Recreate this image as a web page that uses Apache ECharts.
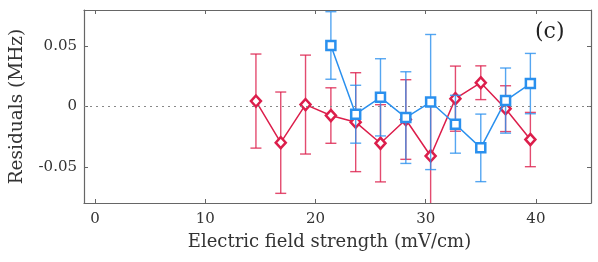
<!DOCTYPE html>
<html><head><meta charset="utf-8">
<script src="https://cdn.jsdelivr.net/npm/echarts@6/dist/echarts.min.js"></script>
<style>html,body{margin:0;padding:0;background:#fff}#c{width:598px;height:262px}</style>
</head><body><div id="c"></div>
<script>
// Data
const redX = [14.6, 16.85, 19.1, 21.4, 23.65, 25.9, 28.2, 30.45, 32.7, 35.0, 37.25, 39.5];
const redY = [0.0045, -0.030, 0.0016, -0.0075, -0.013, -0.0305, -0.0108, -0.041, 0.0065, 0.0197, -0.0018, -0.0274];
const redErr = [0.039, 0.042, 0.041, 0.023, 0.041, 0.032, 0.033, 0.046, 0.027, 0.014, 0.019, 0.0225];
const blueX = [21.4, 23.65, 25.9, 28.2, 30.45, 32.7, 35.0, 37.25, 39.5];
const blueY = [0.0506, -0.0064, 0.0076, -0.0092, 0.0037, -0.0147, -0.0343, 0.0049, 0.019];
const blueErr = [0.028, 0.024, 0.032, 0.038, 0.056, 0.024, 0.028, 0.027, 0.025];
const xTicks = [0, 10, 20, 30, 40];
const yTicks = [-0.05, 0, 0.05];
const yTickLabels = ['-0.05', '0', '0.05'];
const xName = 'Electric field strength (mV/cm)';
const yName = 'Residuals (MHz)';
const panelLabel = '(c)';

const RED = '#dc1e4b';
const BLUE = '#2a90ee';
const FONT = 'DejaVu Serif';
const AX = '#666';

function errRender(color) {
  return function (params, api) {
    const x = api.value(0), y = api.value(1), e = api.value(2);
    const cs = params.coordSys;
    const top = api.coord([x, y + e]);
    const bot = api.coord([x, y - e]);
    const yMin = cs.y, yMax = cs.y + cs.height;
    const t = Math.max(top[1], yMin), b = Math.min(bot[1], yMax);
    const hw = 5.5;
    const st = { stroke: color, lineWidth: 1.4, opacity: 0.8 };
    const ch = [{ type: 'line', shape: { x1: top[0], y1: t, x2: top[0], y2: b }, style: st }];
    if (top[1] >= yMin) ch.push({ type: 'line', shape: { x1: top[0] - hw, y1: top[1], x2: top[0] + hw, y2: top[1] }, style: st });
    if (bot[1] <= yMax) ch.push({ type: 'line', shape: { x1: top[0] - hw, y1: bot[1], x2: top[0] + hw, y2: bot[1] }, style: st });
    return { type: 'group', children: ch };
  };
}

function xAxisCfg(pos, showLabel) {
  return {
    type: 'value', min: -1, max: 45, position: pos,
    axisLine: { show: true, onZero: false, lineStyle: { color: AX, width: 1.2 } },
    axisTick: { show: true, inside: true, length: 4, customValues: xTicks, lineStyle: { color: AX } },
    axisLabel: { show: showLabel, customValues: xTicks, fontFamily: FONT, fontSize: 15, color: '#333', margin: 9 },
    splitLine: { show: false },
    name: showLabel ? xName : '', nameLocation: 'middle', nameGap: 30,
    nameTextStyle: { fontFamily: FONT, fontSize: 18, color: '#333', padding: [0, 16, 0, 0] }
  };
}
function yAxisCfg(pos, showLabel) {
  return {
    type: 'value', min: -0.08, max: 0.08, position: pos,
    axisLine: { show: true, onZero: false, lineStyle: { color: AX, width: 1.2 } },
    axisTick: { show: true, inside: true, length: 4, customValues: yTicks, lineStyle: { color: AX } },
    axisLabel: {
      show: showLabel, customValues: yTicks, fontFamily: FONT, fontSize: 15, color: '#333', margin: 7,
      formatter: function (v) { const i = yTicks.findIndex(t => Math.abs(t - v) < 1e-9); return i >= 0 ? yTickLabels[i] : ''; }
    },
    splitLine: { show: false },
    name: showLabel ? yName : '', nameLocation: 'middle', nameGap: 57,
    nameTextStyle: { fontFamily: FONT, fontSize: 18.5, color: '#333' }
  };
}

const chart = echarts.init(document.getElementById('c'), null, { renderer: 'canvas' });
chart.setOption({
  animation: false,
  backgroundColor: '#fff',
  grid: { left: 84, right: 7, top: 10, bottom: 59, containLabel: false },
  xAxis: [xAxisCfg('bottom', true), xAxisCfg('top', false)],
  yAxis: [yAxisCfg('left', true), yAxisCfg('right', false)],
  graphic: [{
    type: 'text', left: 535, top: 21,
    style: { text: panelLabel, font: '22px "DejaVu Serif"', fill: '#222' }
  }],
  series: [
    {
      type: 'custom', name: 'redErr', renderItem: errRender(RED),
      data: redX.map((x, i) => [x, redY[i], redErr[i]]), encode: { x: 0, y: 1 }, z: 2, silent: true,
      markLine: {
        silent: true, symbol: ['none', 'none'], label: { show: false },
        lineStyle: { type: [2, 4], color: '#888', width: 1.2 },
        data: [{ yAxis: 0 }]
      }
    },
    {
      type: 'line', name: 'red', data: redX.map((x, i) => [x, redY[i]]),
      symbol: 'diamond', symbolSize: [10, 11],
      lineStyle: { color: RED, width: 1.5 },
      itemStyle: { color: '#fff', borderColor: RED, borderWidth: 2.5 }, z: 3
    },
    {
      type: 'custom', name: 'blueErr', renderItem: errRender(BLUE),
      data: blueX.map((x, i) => [x, blueY[i], blueErr[i]]), encode: { x: 0, y: 1 }, z: 4, silent: true
    },
    {
      type: 'line', name: 'blue', data: blueX.map((x, i) => [x, blueY[i]]),
      symbol: 'rect', symbolSize: 9,
      lineStyle: { color: BLUE, width: 1.5 },
      itemStyle: { color: '#fff', borderColor: BLUE, borderWidth: 2.5 }, z: 5
    }
  ]
});
</script></body></html>
